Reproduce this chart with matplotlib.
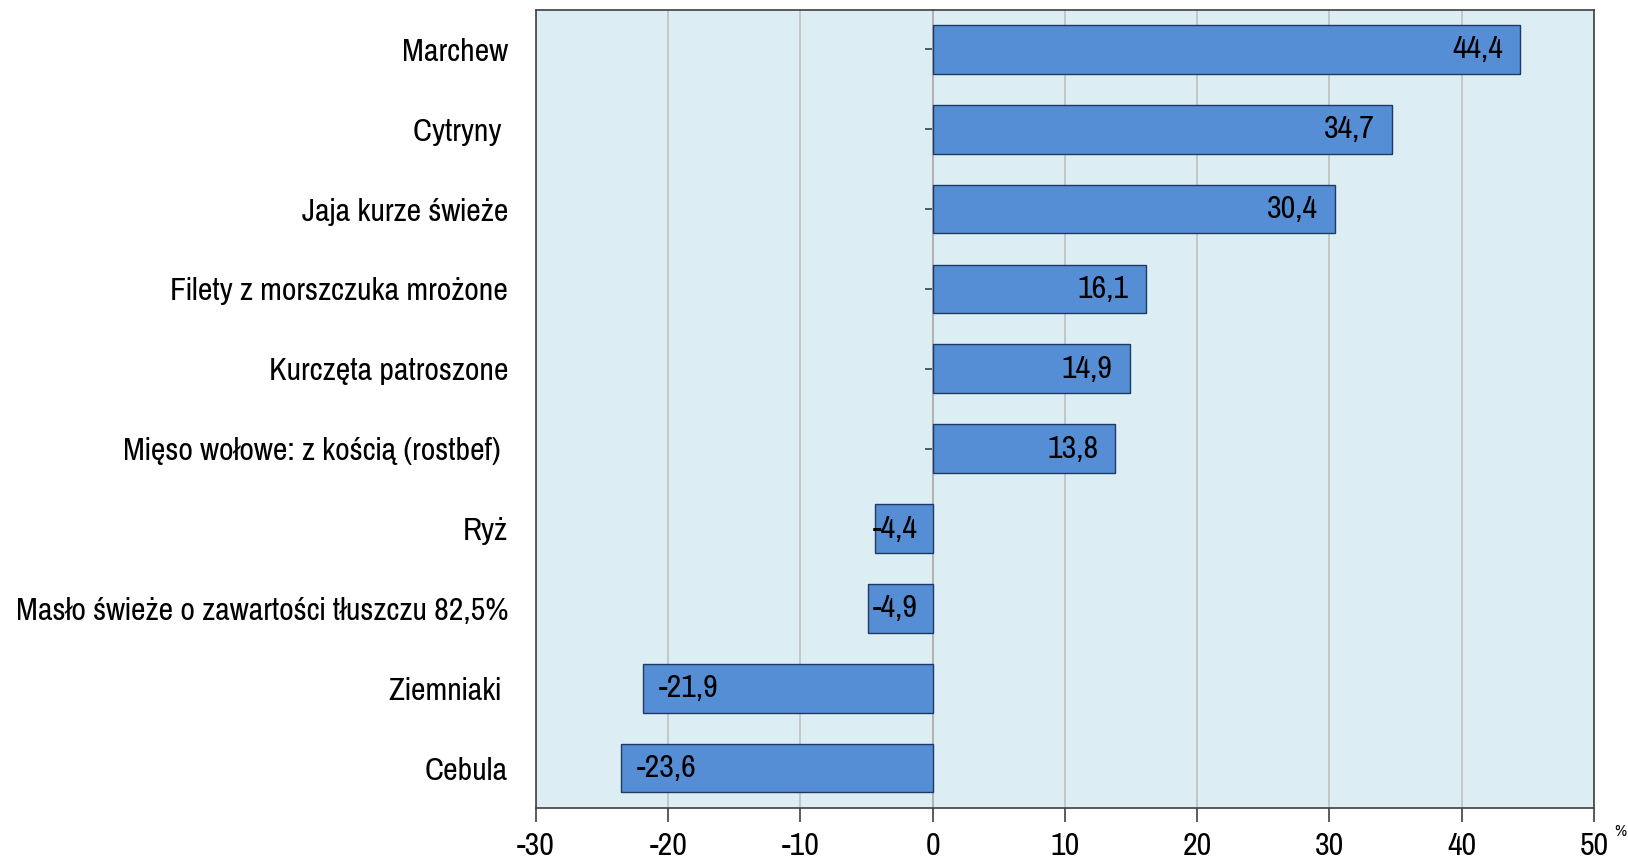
import matplotlib
matplotlib.use("Agg")
import matplotlib.pyplot as plt
from matplotlib import font_manager
from matplotlib.transforms import offset_copy

categories = ["Marchew", "Cytryny ", "Jaja kurze świeże", "Filety z morszczuka mrożone",
              "Kurczęta patroszone", "Mięso wołowe: z kością (rostbef) ", "Ryż",
              "Masło świeże o zawartości tłuszczu 82,5%", "Ziemniaki ", "Cebula"]
values = [44.4, 34.7, 30.4, 16.1, 14.9, 13.8, -4.4, -4.9, -21.9, -23.6]
xticks = [-30, -20, -10, 0, 10, 20, 30, 40, 50]

names = {f.name for f in font_manager.fontManager.ttflist}
fam = [f for f in ["Pragati Narrow", "Liberation Sans", "DejaVu Sans"] if f in names]
plt.rcParams['font.family'] = fam

fig = plt.figure(figsize=(16.28, 8.59), dpi=100)
ax = fig.add_axes([536/1628, 51/859, (1594-536)/1628, (849.5-51)/859])
ax.set_facecolor("#DCEEF4")

xmin, xmax = -30, 50
ax.set_xlim(xmin, xmax)
ax.set_ylim(-0.5, len(categories) - 0.5)
ax.set_xticks(xticks)
ax.set_xticklabels([str(t) for t in xticks])
ax.grid(axis='x', color="#C0C0C0", linewidth=1.2)
ax.set_axisbelow(True)

ypos = list(range(len(categories)))[::-1]
ax.barh(ypos, values, height=0.61, color="#558ED5", edgecolor="#1F3864", linewidth=1.0, zorder=2)

ax.set_yticks(ypos)
ax.set_yticklabels(categories, fontsize=25)
ax.tick_params(axis='y', length=0, pad=20)
ax.tick_params(axis='x', direction='out', length=10, width=1.2, color="#404040", labelsize=25, pad=7)

for s in ax.spines.values():
    s.set_color("#404040")
    s.set_linewidth(1.2)

loc = (0 - xmin) / (xmax - xmin)
sec = ax.secondary_yaxis(loc)
sec.set_yticks(ypos)
sec.set_yticklabels([])
sec.tick_params(axis='y', direction='out', length=6, width=1.2, color="#404040")
sec.spines['left'].set_color("#606060")
sec.spines['left'].set_linewidth(1.3)

for y, v in zip(ypos, values):
    lab = f"{v:.1f}".replace(".", ",")
    if v >= 0:
        tr = offset_copy(ax.transData, fig=fig, x=-17, y=0, units='dots')
        ax.text(v, y, lab, ha='right', va='center', fontsize=25, transform=tr, zorder=4)
    elif abs(v) > 0.1 * (xmax - xmin):
        tr = offset_copy(ax.transData, fig=fig, x=16, y=0, units='dots')
        ax.text(v, y, lab, ha='left', va='center', fontsize=25, transform=tr, zorder=4)
    else:
        tr = offset_copy(ax.transData, fig=fig, x=-15, y=0, units='dots')
        ax.text(0, y, lab, ha='right', va='center', fontsize=25, transform=tr, zorder=4)

fig.text(1620/1628, 1 - 832/859, "%", fontsize=13, ha='center', va='center')

fig.savefig("out.png", dpi=100)
